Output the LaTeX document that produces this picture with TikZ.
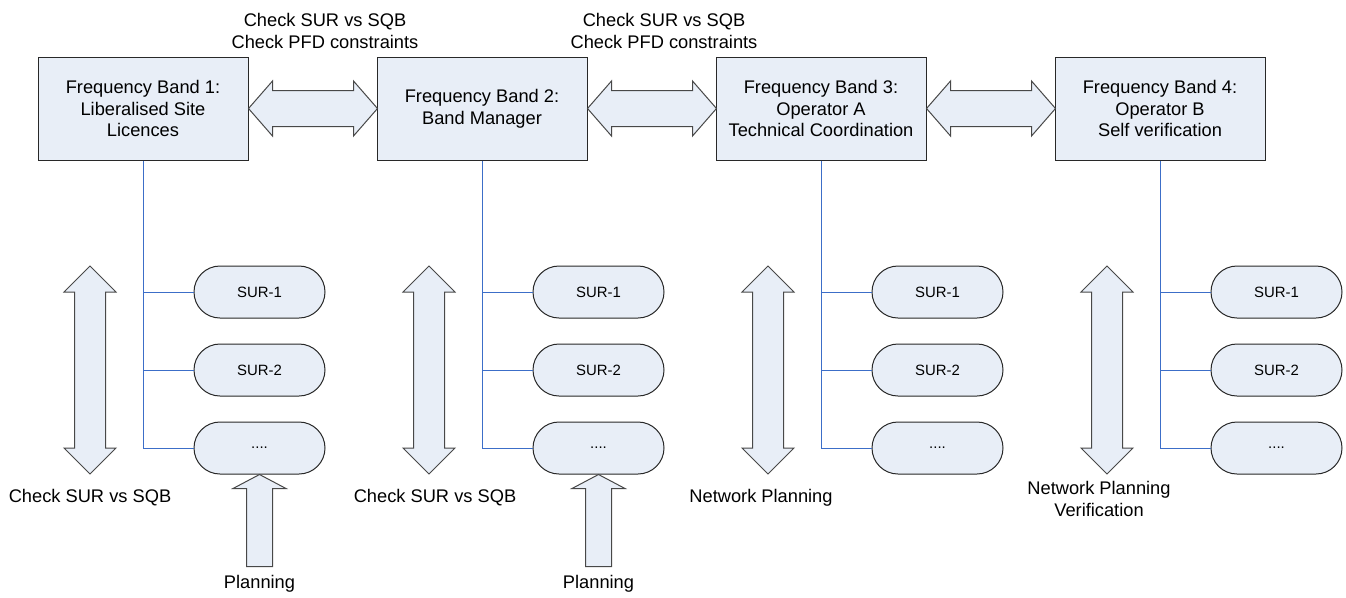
\documentclass[tikz,border=0pt]{standalone}
\usepackage{fontspec}
\setmainfont{Liberation Sans}
\usetikzlibrary{calc}
\definecolor{boxfill}{RGB}{232,238,247}
\definecolor{linkblue}{RGB}{60,110,200}
\definecolor{edge}{RGB}{40,40,40}
\begin{document}
\begin{tikzpicture}[x=0.75pt,y=-0.75pt,
  band/.style={draw=edge, fill=boxfill, line width=0.75pt, minimum width=157.5pt,
    minimum height=77.25pt, align=center, inner sep=0pt,
    font=\fontsize{13.7}{16.2}\selectfont},
  sur/.style={draw=edge, fill=boxfill, line width=0.75pt, rounded corners=19.5pt,
    minimum width=98.25pt, minimum height=39pt, inner sep=0pt,
    font=\fontsize{11.2}{13}\selectfont},
  fat/.style={draw=edge!85, fill=boxfill, line width=0.75pt, line join=miter},
  wire/.style={draw=linkblue, line width=0.75pt},
  lbl/.style={align=center, inner sep=0pt, font=\fontsize{13.7}{16.5}\selectfont}]

\useasboundingbox (0,0) rectangle (1346,597);

% frequency band boxes
\node[band] (b1) at (143,108.5) {Frequency Band 1:\\Liberalised Site\\Licences};
\node[band] (b2) at (482,108.5) {Frequency Band 2:\\Band Manager};
\node[band] (b3) at (821,108.5) {Frequency Band 3:\\Operator A\\Technical Coordination};
\node[band] (b4) at (1160,108.5) {Frequency Band 4:\\Operator B\\Self verification};

% wide double arrows between neighbouring bands
\foreach \a/\b in {b1/b2,b2/b3,b3/b4}{
  \begin{scope}[shift={(\a.east)}]
    \path[fat] (0,0) -- (24,-27.5) -- (24,-18) -- (105,-18) -- (105,-27.5)
      -- (129,0) -- (105,27.5) -- (105,18) -- (24,18) -- (24,27.5) -- cycle;
  \end{scope}
}

% coordination texts above the arrows
\node[lbl] (t1) at (325,31) {Check SUR vs SQB\\Check PFD constraints};
\node[lbl] (t2) at (664,31) {Check SUR vs SQB\\Check PFD constraints};

% SUR entries of each band, wired to the band box
\foreach \k/\cx in {1/143,2/482,3/821,4/1160}{
  \node[sur] (s\k a) at (\cx+116.5,292) {SUR-1};
  \node[sur] (s\k b) at (\cx+116.5,370) {SUR-2};
  \node[sur] (s\k c) at (\cx+116.5,448) {....};
  \draw[wire] (b\k.south) -- (b\k.south |- s\k c.west) -- (s\k c.west);
  \draw[wire] (b\k.south |- s\k a.west) -- (s\k a.west);
  \draw[wire] (b\k.south |- s\k b.west) -- (s\k b.west);
  % vertical double arrow beside the SUR list
  \begin{scope}[shift={(\cx-53,0)}]
    \path[fat] (0,266) -- (26,292) -- (15.5,292) -- (15.5,448) -- (26,448)
      -- (0,474) -- (-26,448) -- (-15.5,448) -- (-15.5,292) -- (-26,292) -- cycle;
  \end{scope}
}

% planning input arrows
\foreach \k in {1,2}{
  \begin{scope}[shift={(s\k c.south)}]
    \path[fat] (0,0) -- (26.5,14) -- (13,14) -- (13,92) -- (-13,92) -- (-13,14)
      -- (-26.5,14) -- cycle;
  \end{scope}
}

% labels under the bands
\node[lbl] (l1) at (90,498) {Check SUR vs SQB};
\node[lbl] (l2) at (435,498) {Check SUR vs SQB};
\node[lbl] (l3) at (761,498) {Network Planning};
\node[lbl] (l4) at (1099,499) {Network Planning\\Verification};
\node[lbl] (p1) at (259.5,584) {Planning};
\node[lbl] (p2) at (598.5,584) {Planning};
\end{tikzpicture}
\end{document}
